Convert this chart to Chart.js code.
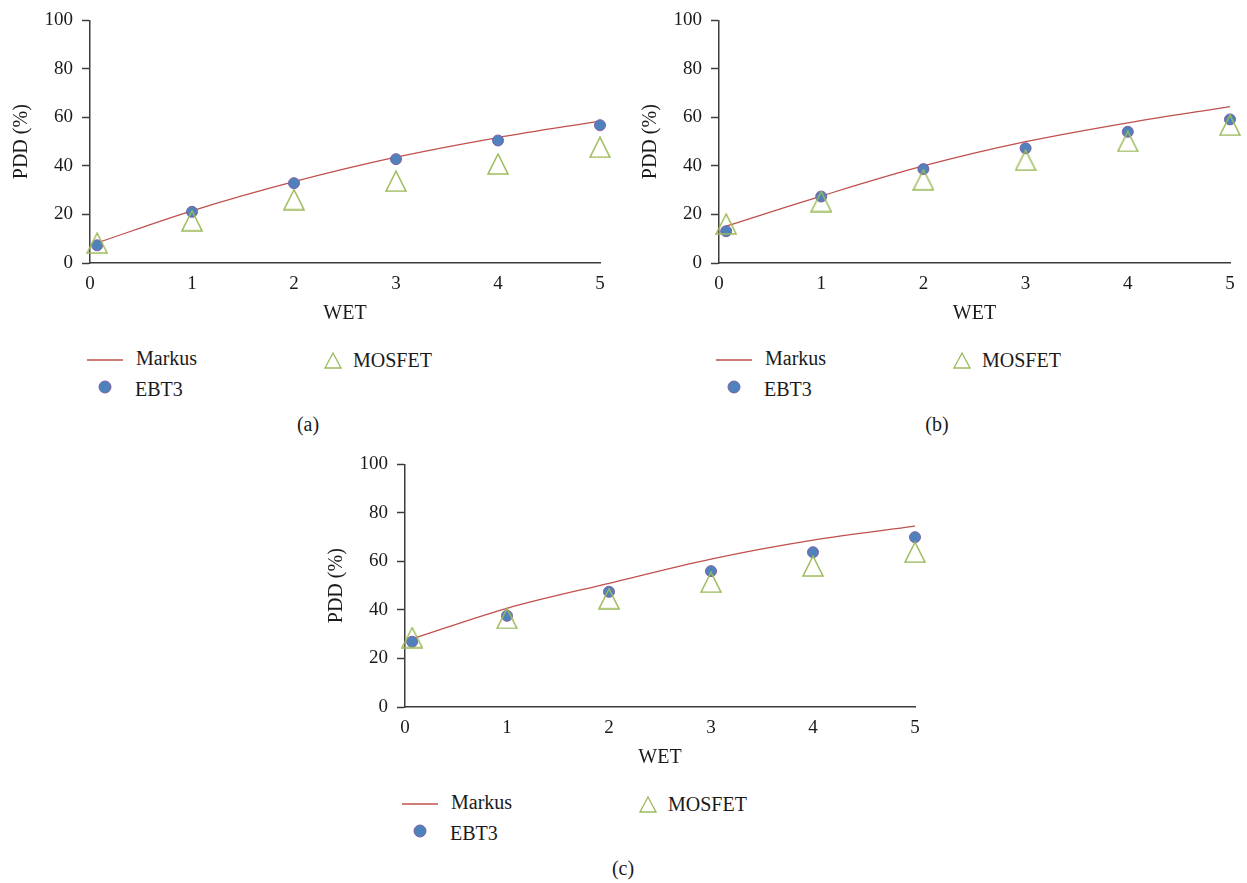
<!DOCTYPE html>
<html>
<head>
<meta charset="utf-8">
<script src="https://cdn.jsdelivr.net/npm/chart.js@4.4.1/dist/chart.umd.min.js"></script>
<style>
  body { margin: 0; background: #fff; width: 1247px; height: 883px; position: relative; overflow: hidden; }
  canvas { position: absolute; }
  .lg { position: absolute; font-family: "Liberation Serif", "Times New Roman", "DejaVu Serif", serif; font-size: 20px; line-height: 24px; color: #1a1a1a; white-space: nowrap; }
  .mk { position: absolute; line-height: 0; }
  .mk svg { display: block; }
</style>
</head>
<body>
<canvas id="chartA" width="620" height="330" style="left:0px;top:0px"></canvas>
<canvas id="chartB" width="618" height="330" style="left:629px;top:0px"></canvas>
<canvas id="chartC" width="620" height="330" style="left:315px;top:444px"></canvas>
<script>
// WET positions of the measurements
const wetX = [0.07, 1, 2, 3, 4, 5];

// (a)
const markusA = [8.3, 21.5, 33.5, 43.6, 51.7, 58.5];
const ebt3A = [7.3, 21.1, 32.9, 42.8, 50.5, 56.8];
const mosfetA = [8.2, 17.4, 26.1, 33.7, 40.8, 47.7];

// (b)
const markusB = [15.2, 27.6, 40.0, 50.0, 57.8, 64.5];
const ebt3B = [13.1, 27.4, 38.7, 47.3, 54.1, 59.2];
const mosfetB = [16.1, 25.3, 34.3, 42.4, 50.1, 56.8];

// (c)
const markusC = [28.1, 40.7, 51.0, 61.0, 68.8, 74.6];
const ebt3C = [26.9, 37.6, 47.5, 56.0, 63.8, 70.0];
const mosfetC = [28.6, 36.5, 44.6, 51.4, 58.1, 63.8];

const seriesNames = ["Markus", "EBT3", "MOSFET"];
const captions = ["(a)", "(b)", "(c)"];

const RED = "#C0504D";
const BLUE = "#4F81BD";
const PURPLE = "#7D60A0";
const GREEN = "#9BBB59";
const AXIS = "#3c3c3c";
const FONT = "'Liberation Serif', 'Times New Roman', 'DejaVu Serif', serif";

function triangleImage(w, h, lw) {
    const c = document.createElement("canvas");
    c.width = w + 2;
    c.height = h + 2;
    const ctx = c.getContext("2d");
    ctx.strokeStyle = GREEN;
    ctx.lineWidth = lw;
    ctx.beginPath();
    ctx.moveTo(c.width / 2, 1);
    ctx.lineTo(1, h + 1);
    ctx.lineTo(w + 1, h + 1);
    ctx.closePath();
    ctx.stroke();
    return c;
}

const triMarker = triangleImage(20, 20, 1.5);

function toPoints(values) {
    return values.map((v, i) => ({ x: wetX[i], y: v }));
}

function makeChart(id, markus, ebt3, mosfet) {
    return new Chart(document.getElementById(id), {
        type: "line",
        data: {
            datasets: [
                {
                    label: seriesNames[0],
                    data: toPoints(markus),
                    borderColor: RED,
                    borderWidth: 1.3,
                    pointRadius: 0,
                    cubicInterpolationMode: "monotone",
                    fill: false,
                    clip: false,
                    order: 3
                },
                {
                    label: seriesNames[1],
                    data: toPoints(ebt3),
                    showLine: false,
                    pointRadius: 5.5,
                    pointBackgroundColor: BLUE,
                    pointBorderColor: PURPLE,
                    pointBorderWidth: 1,
                    clip: false,
                    order: 2
                },
                {
                    label: seriesNames[2],
                    data: toPoints(mosfet),
                    showLine: false,
                    pointStyle: triMarker,
                    pointRadius: 10,
                    clip: false,
                    order: 1
                }
            ]
        },
        options: {
            responsive: false,
            animation: false,
            layout: { padding: { top: 17, right: id === "chartB" ? 17 : 20, left: 0, bottom: 0 } },
            plugins: { legend: { display: false }, tooltip: { enabled: false } },
            scales: {
                x: {
                    type: "linear",
                    min: 0,
                    max: 5,
                    afterFit: (s) => { s.height = 67; },
                    grid: { display: false },
                    border: { display: true, color: AXIS, width: 1.5 },
                    ticks: { stepSize: 1, padding: 2, color: "#1a1a1a", font: { family: FONT, size: 19 } },
                    title: { display: true, text: "WET", color: "#1a1a1a", padding: { top: 0, bottom: 4 }, font: { family: FONT, size: 20 } }
                },
                y: {
                    min: 0,
                    max: 100,
                    afterFit: (s) => { s.width = 90; },
                    grid: { drawOnChartArea: false, drawTicks: true, tickLength: 8, tickColor: AXIS, tickWidth: 1.5 },
                    border: { display: true, color: AXIS, width: 1.5 },
                    ticks: { stepSize: 20, padding: 9, color: "#1a1a1a", font: { family: FONT, size: 19 } },
                    title: { display: true, text: "PDD (%)", color: "#1a1a1a", padding: { top: 10, bottom: 0 }, font: { family: FONT, size: 20 } }
                }
            }
        }
    });
}

makeChart("chartA", markusA, ebt3A, mosfetA);
makeChart("chartB", markusB, ebt3B, mosfetB);
makeChart("chartC", markusC, ebt3C, mosfetC);

// legends and captions, laid out like the original figure
function addText(txt, left, cy, center) {
    const d = document.createElement("div");
    d.className = "lg";
    d.textContent = txt;
    d.style.top = (cy - 12) + "px";
    d.style.left = left + "px";
    if (center) d.style.transform = "translateX(-50%)";
    document.body.appendChild(d);
}

function addMarker(svg, left, top) {
    const d = document.createElement("div");
    d.className = "mk";
    d.style.left = left + "px";
    d.style.top = top + "px";
    d.innerHTML = svg;
    document.body.appendChild(d);
}

function addLegend(dx, dy, caption) {
    addMarker('<svg width="36" height="4"><line x1="0" y1="2" x2="36" y2="2" stroke="' + RED + '" stroke-width="1.3"/></svg>', 87 + dx, 358 + dy);
    addText(seriesNames[0], 136 + dx, 358 + dy);
    addMarker('<svg width="14" height="14"><circle cx="7" cy="7" r="6" fill="' + BLUE + '" stroke="' + PURPLE + '" stroke-width="1"/></svg>', 98 + dx, 380 + dy);
    addText(seriesNames[1], 135 + dx, 389 + dy);
    addMarker('<svg width="18" height="17"><polygon points="9,1 1,16 17,16" fill="none" stroke="' + GREEN + '" stroke-width="1.3"/></svg>', 324 + dx, 352 + dy);
    addText(seriesNames[2], 353 + dx, 360 + dy);
    addText(caption, 308 + dx, 424 + dy, true);
}

addLegend(0, 0, captions[0]);
addLegend(629, 0, captions[1]);
addLegend(315, 444, captions[2]);
</script>
</body>
</html>
